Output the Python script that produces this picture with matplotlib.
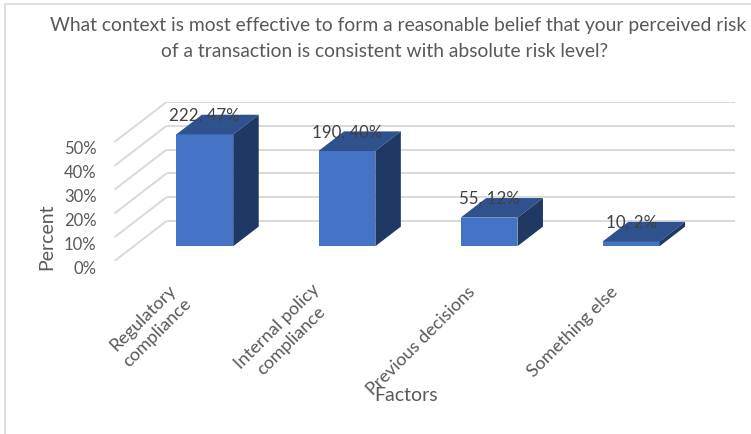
import numpy as np
import matplotlib.pyplot as plt
from matplotlib.patches import Polygon, Rectangle
from matplotlib.transforms import ScaledTranslation

plt.rcParams['font.family'] = ['Lato', 'DejaVu Sans']

categories = ['Regulatory\ncompliance', 'Internal policy\ncompliance', 'Previous decisions', 'Something else']
counts = [222, 190, 55, 10]
percents = [47, 40, 12, 2]
yticks = [0, 10, 20, 30, 40, 50]

title_lines = ['What context is most effective to form a reasonable belief that your perceived risk',
               'of a transaction is consistent with absolute risk level?']

# pseudo 3d: depth offsets in data units (x in categories, y in percent)
DX, DY = 0.366, 16.8
d0, d1 = 0.37, 0.86      # front / back depth of the bars
hw = 0.2                 # half width of a bar

front_c = '#4472C4'
top_c = '#2F528F'
side_c = '#203864'
grid_c = '#D9D9D9'
text_c = '#595959'

fig = plt.figure(figsize=(7.51, 4.35), dpi=100)
ax = fig.add_axes([114.5 / 751, (435 - 262) / 435, 620.5 / 751, 159 / 435])
ax.set_xlim(-0.5, 3.5 + DX)
ax.set_ylim(0, max(yticks) + DY)
for s in ax.spines.values():
    s.set_visible(False)
ax.patch.set_alpha(0)

# back wall grid + side diagonals
for v in yticks:
    ax.plot([-0.5 + DX, 3.5 + DX], [v + DY, v + DY], color=grid_c, lw=1.4, zorder=1, solid_capstyle='butt')
    ax.plot([-0.5, -0.5 + DX], [v, v + DY], color=grid_c, lw=1.4, zorder=1, solid_capstyle='butt')

# bars
for i, v in enumerate(percents):
    xl, xr = i - hw, i + hw
    fl = (xl + d0 * DX, d0 * DY)
    fr = (xr + d0 * DX, d0 * DY)
    ftl = (xl + d0 * DX, v + d0 * DY)
    ftr = (xr + d0 * DX, v + d0 * DY)
    btl = (xl + d1 * DX, v + d1 * DY)
    btr = (xr + d1 * DX, v + d1 * DY)
    bbr = (xr + d1 * DX, d1 * DY)
    ax.add_patch(Polygon([fl, fr, ftr, ftl], closed=True, fc=front_c, ec='none', zorder=3))
    ax.add_patch(Polygon([ftl, ftr, btr, btl], closed=True, fc=top_c, ec='none', zorder=3))
    ax.add_patch(Polygon([fr, ftr, btr, bbr], closed=True, fc=side_c, ec='none', zorder=3))
    ax.text(i + d0 * DX, v + d1 * DY, f'{counts[i]}, {v}%', ha='center', va='center',
            fontsize=12.2, color='#404040', zorder=4)

ax.set_yticks(yticks)
ax.set_yticklabels([f'{v}%' for v in yticks], fontsize=12, color=text_c)
ax.tick_params(axis='y', length=0, pad=13)
for lab in ax.get_yticklabels():
    lab.set_transform(lab.get_transform() + ScaledTranslation(0, -5 / 100, fig.dpi_scale_trans))
ax.set_xticks(range(len(categories)))
ax.set_xticklabels(categories, rotation=45, ha='right', va='center', rotation_mode='anchor',
                   multialignment='center', fontsize=13, color=text_c, linespacing=1.3)
ax.tick_params(axis='x', length=0, pad=20)
for lab in ax.get_xticklabels():
    # two-line labels sit a little further down-left in the original
    off = -4 if '\n' in lab.get_text() else 3
    lab.set_transform(lab.get_transform() + ScaledTranslation(off / 100, off / 100 if off < 0 else 0,
                                                              fig.dpi_scale_trans))

fig.text(47 / 751, 1 - 237 / 435, 'Percent', rotation=90, ha='center', va='center', fontsize=14, color=text_c)
fig.text(406 / 751, 1 - 396 / 435, 'Factors', ha='center', va='center', fontsize=14, color=text_c)
fig.text(398 / 751, 1 - 26 / 435, title_lines[0], ha='center', va='center', fontsize=13.9, color=text_c)
fig.text(385 / 751, 1 - 52 / 435, title_lines[1], ha='center', va='center', fontsize=13.9, color=text_c)

# chart border (only top and left edges fall inside the image)
fig.patches.append(Rectangle((5 / 751, -0.1), 1.2, 1.1 - 5 / 435, transform=fig.transFigure,
                             fill=False, ec='#D9D9D9', lw=1.2))

fig.savefig('out.png', dpi=100)
